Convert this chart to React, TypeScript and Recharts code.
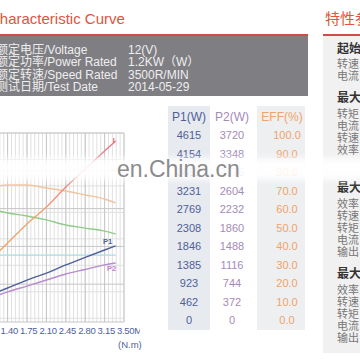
import React from "react";
import { LineChart, Line, XAxis, YAxis, CartesianGrid } from "recharts";

// torque (N.m) at the sampled points
const torque = [1.05, 1.4, 1.75, 2.1, 2.45, 2.8, 3.15, 3.35];
// curve values on a 0-100 scale of the grid
const current = [31.7, 41.8, 51.9, 60.8, 71.4, 81.0, 90.5, 95.8];
const efficiency = [70.9, 72.5, 72.5, 70.9, 69.3, 67.2, 65.1, 63.0];
const speed = [60.3, 57.7, 56.1, 54.0, 51.3, 49.7, 48.1, 46.6];
const voltage = [35.4, 35.4, 35.4, 35.4, 35.4, 35.4, 35.4, 35.4];
const p1 = [13.8, 18.0, 22.2, 25.9, 30.2, 34.2, 38.1, 40.3];
const p2 = [12.2, 15.9, 19.0, 22.2, 25.4, 27.8, 30.2, 31.2];

const majorX = [0, 0.35, 0.7, 1.05, 1.4, 1.75, 2.1, 2.45, 2.8, 3.15, 3.5];
const majorY = [0, 10, 20, 30, 40, 50, 60, 70, 80, 90, 100];
const minorX = Array.from({ length: 51 }, (_, i) => +(i * 0.07).toFixed(2));
const minorY = Array.from({ length: 51 }, (_, i) => i * 2);

// table on the right of the chart
const p1Col = ["4615", "4154", "3692", "3231", "2769", "2308", "1846", "1385", "923", "462", "0"];
const p2Col = ["3720", "3348", "2976", "2604", "2232", "1860", "1488", "1116", "744", "372", "0"];
const effCol = ["100.0", "90.0", "80.0", "70.0", "60.0", "50.0", "40.0", "30.0", "20.0", "10.0", "0.0"];

const specLabels = ["额定电压/Voltage", "额定功率/Power Rated", "额定转速/Speed Rated", "测试日期/Test Date"];
const specValues = ["12(V)", "1.2KW（W）", "3500R/MIN", "2014-05-29"];

const sideLines: [string, boolean, number][] = [
  ["起始点", true, 48],
  ["转速：", false, 63],
  ["电流：", false, 75],
  ["最大转矩点", true, 97],
  ["转矩：", false, 113],
  ["电流：", false, 125],
  ["转速：", false, 137],
  ["效率：", false, 149],
  ["最大效率点", true, 187],
  ["效率：", false, 203],
  ["转速：", false, 215],
  ["转矩：", false, 227],
  ["电流：", false, 239],
  ["输出：", false, 251],
  ["最大功率点", true, 273],
  ["效率：", false, 289],
  ["转速：", false, 301],
  ["转矩：", false, 313],
  ["电流：", false, 325],
  ["输出：", false, 337],
];

const toPoints = (vals: number[]) => torque.map((x, i) => ({ x, y: vals[i] }));

const latin = "'Liberation Sans', Arial, 'Noto Sans CJK SC', sans-serif";
const cjk = "'Noto Sans CJK SC', 'Liberation Sans', sans-serif";

const TorqueTick = (props: any) => {
  const { x, y, payload } = props;
  const v = payload.value;
  const label = v.toFixed(2) + (v === 3.5 ? "M" : "");
  return (
    <text x={x - 7} y={y + 12} fill="#4f5f99" fontSize={9.5} fontFamily="'Liberation Sans Narrow', 'Liberation Sans', sans-serif" letterSpacing={-0.3}>
      {label}
    </text>
  );
};

const endLabel = (text: string, color: string, dx: number, dy: number) => (props: any) => {
  const { x, y, index } = props;
  if (index !== torque.length - 1) return null;
  return (
    <text x={x + dx} y={y + dy} fill={color} fontSize={7.5} fontWeight="bold" textAnchor="middle" dominantBaseline="central" fontFamily={latin}>
      {text}
    </text>
  );
};

const rowY = (i: number) => 135 + i * 18.5;

const App = () => {
  return (
    <div style={{ position: "absolute", left: 0, top: 0, width: 360, height: 360, overflow: "hidden", background: "#fff", fontFamily: latin }}>
      {/* titles */}
      <div style={{ position: "absolute", left: -11, top: 10, fontSize: 15, lineHeight: "18px", color: "#e0533f", whiteSpace: "nowrap" }}>
        Characteristic Curve
      </div>
      <div style={{ position: "absolute", left: 325, top: 9, fontSize: 15, lineHeight: "18px", color: "#e0533f", whiteSpace: "nowrap", fontFamily: cjk }}>
        特性参数
      </div>
      <div style={{ position: "absolute", left: 0, top: 34, width: 308, height: 2, background: "#cf4d45" }} />
      <div style={{ position: "absolute", left: 323, top: 34, width: 37, height: 2, background: "#cf4d45" }} />

      {/* rated values box */}
      <div style={{ position: "absolute", left: 0, top: 36, width: 308, height: 60, background: "#7e7e83" }} />
      {specLabels.map((t, i) => (
        <div key={t} style={{ position: "absolute", left: -4, top: 44 + i * 12.3, fontSize: 12, lineHeight: "12px", color: "#eeeeee", whiteSpace: "nowrap" }}>
          {t}
        </div>
      ))}
      {specValues.map((t, i) => (
        <div key={t} style={{ position: "absolute", left: 128, top: 44 + i * 12.3, fontSize: 12, lineHeight: "12px", color: "#eeeeee", whiteSpace: "nowrap" }}>
          {t}
        </div>
      ))}

      {/* chart */}
      <div style={{ position: "absolute", left: -80, top: 120, width: 220, height: 240 }}>
        <LineChart width={220} height={240} margin={{ top: 13, right: 16, left: 10, bottom: 18 }}>
          <defs>
            <linearGradient id="curGrad" x1="0" y1="0" x2="1" y2="0">
              <stop offset="0%" stopColor="#f4a468" />
              <stop offset="45%" stopColor="#f3a070" />
              <stop offset="62%" stopColor="#ec8a80" />
              <stop offset="100%" stopColor="#e67888" />
            </linearGradient>
          </defs>
          <XAxis
            type="number"
            dataKey="x"
            domain={[0, 3.5]}
            ticks={majorX}
            interval={0}
            tickLine={false}
            axisLine={false}
            tickSize={0}
            tickMargin={0}
            height={20}
            tick={<TorqueTick />}
          />
          <YAxis type="number" domain={[0, 100]} ticks={majorY} hide />
          <CartesianGrid verticalValues={minorX} horizontalValues={minorY} stroke="#e0e0e0" strokeWidth={1} />
          <CartesianGrid verticalValues={majorX} horizontalValues={majorY} stroke="#c6c6c6" strokeWidth={1} />
          <Line data={toPoints(voltage)} dataKey="y" type="monotone" stroke="#a8dbe6" strokeWidth={1.4} dot={false} isAnimationActive={false} />
          <Line data={toPoints(speed)} dataKey="y" type="monotone" stroke="#8fcc8a" strokeWidth={1.4} dot={false} isAnimationActive={false} />
          <Line data={toPoints(efficiency)} dataKey="y" type="monotone" stroke="#f2c49c" strokeWidth={1.4} dot={false} isAnimationActive={false} />
          <Line data={toPoints(p2)} dataKey="y" type="monotone" stroke="#b98ccc" strokeWidth={1.4} dot={false} isAnimationActive={false} label={endLabel("P2", "#c07fd0", -4, 5)} />
          <Line data={toPoints(p1)} dataKey="y" type="monotone" stroke="#4f5f99" strokeWidth={1.4} dot={false} isAnimationActive={false} label={endLabel("P1", "#4f5f99", -8, -4)} />
          <Line data={toPoints(current)} dataKey="y" type="monotone" stroke="url(#curGrad)" strokeWidth={1.4} dot={false} isAnimationActive={false} label={endLabel("I", "#e06a78", -2, 0)} />
        </LineChart>
      </div>
      <div style={{ position: "absolute", left: 118, top: 339, fontSize: 9.5, lineHeight: "12px", color: "#4f5f99", fontFamily: "'Liberation Sans Narrow', 'Liberation Sans', sans-serif" }}>
        (N.m)
      </div>

      {/* P1 / P2 / EFF table */}
      <div style={{ position: "absolute", left: 168, top: 106, width: 42, height: 224, background: "#e7eaef" }} />
      <div style={{ position: "absolute", left: 257, top: 106, width: 48, height: 224, background: "#eeeff1" }} />
      {[
        { head: "P1(W)", vals: p1Col, cx: 189, color: "#4f5f99", hx: 189 },
        { head: "P2(W)", vals: p2Col, cx: 232, color: "#a48ab8", hx: 232 },
        { head: "EFF(%)", vals: effCol, cx: 287, color: "#f0a36a", hx: 282 },
      ].map((col) => (
        <React.Fragment key={col.head}>
          <div style={{ position: "absolute", left: col.hx - 30, top: 110, width: 60, textAlign: "center", fontSize: 12, lineHeight: "14px", color: col.color }}>
            {col.head}
          </div>
          {col.vals.map((v, i) => (
            <div key={i} style={{ position: "absolute", left: col.cx - 30, top: rowY(i) - 7, width: 60, textAlign: "center", fontSize: 11, lineHeight: "14px", color: col.color }}>
              {v}
            </div>
          ))}
        </React.Fragment>
      ))}

      {/* side panel */}
      <div style={{ position: "absolute", left: 323, top: 36, width: 37, height: 317, background: "#f1f1f1" }} />
      {sideLines.map(([t, bold, y], i) => (
        <div
          key={i}
          style={{
            position: "absolute",
            left: 337,
            top: y - 7,
            fontSize: bold ? 12 : 11,
            lineHeight: "14px",
            fontWeight: bold ? 700 : 400,
            color: bold ? "#333" : "#777",
            whiteSpace: "nowrap",
            fontFamily: cjk,
          }}
        >
          {t}
        </div>
      ))}

      {/* watermark */}
      <div style={{ position: "absolute", left: -6, top: 158, width: 372, height: 22, background: "rgba(255,255,255,0.9)", filter: "blur(3px)" }} />
      <div style={{ position: "absolute", left: 117, top: 156, fontSize: 23, lineHeight: "26px", color: "#8c8c8c", whiteSpace: "nowrap" }}>
        en.China.cn
      </div>
    </div>
  );
};

export default App;
